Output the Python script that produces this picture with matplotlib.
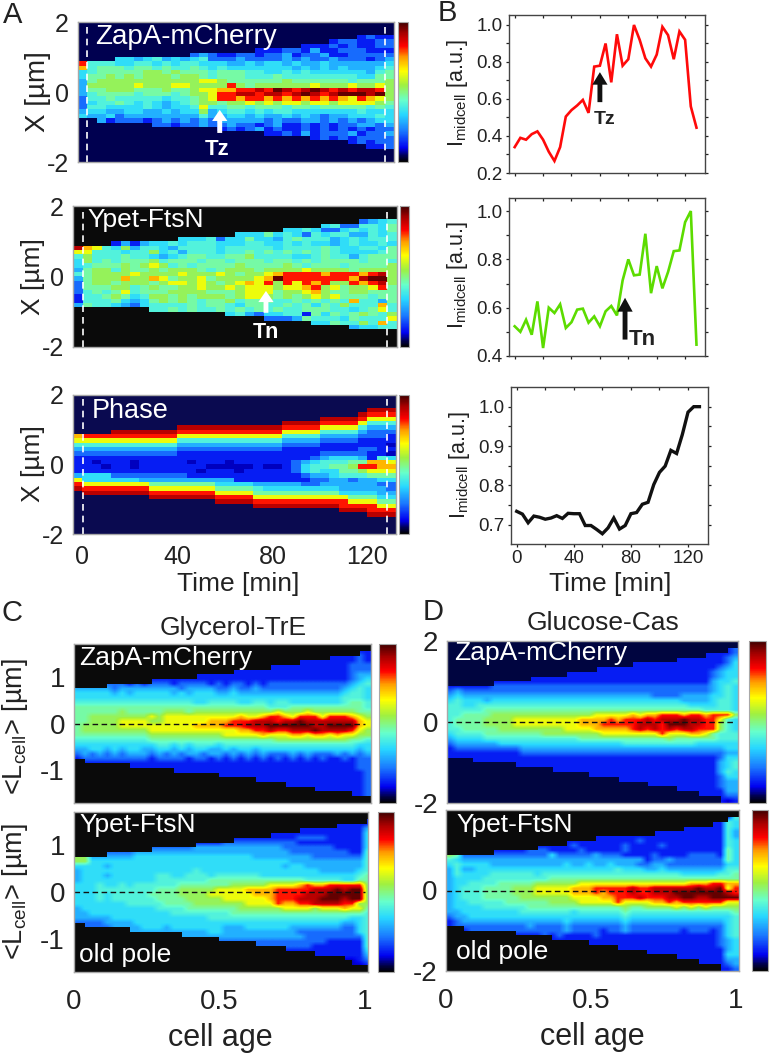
import matplotlib
matplotlib.use("Agg")
import matplotlib.pyplot as plt
import numpy as np
from matplotlib.colors import LinearSegmentedColormap
from matplotlib.cm import ScalarMappable

W, H = 780, 1056
plt.rcParams['font.family'] = ['Liberation Sans', 'DejaVu Sans']
plt.rcParams['mathtext.fontset'] = 'custom'
plt.rcParams['mathtext.rm'] = 'Liberation Sans'
plt.rcParams['text.color'] = '#222222'
plt.rcParams['xtick.color'] = '#222222'
plt.rcParams['ytick.color'] = '#222222'

# line traces, one point every 4 min
time_min = [0, 4, 8, 12, 16, 20, 24, 28, 32, 36, 40, 44, 48, 52, 56, 60, 64,
            68, 72, 76, 80, 84, 88, 92, 96, 100, 104, 108, 112, 116, 120, 124, 128]
zapa_mid = [.34, .39, .38, .41, .425, .38, .315, .265, .34, .505, .54, .565, .595, .525, .775, .78, .90,
            .69, .95, .78, .815, 1.0, .92, .82, .775, .84, .99, .945, .815, .965, .92, .56, .445]
ftsn_mid = [.523, .50, .55, .488, .626, .433, .60, .578, .614, .516, .54, .592, .596, .538, .564, .523, .585,
            .607, .568, .713, .80, .734, .737, .906, .66, .772, .68, .748, .834, .837, .954, 1.0, .447]
phase_mid = [.734, .727, .705, .722, .719, .714, .717, .723, .716, .729, .728, .728, .698, .698, .688, .677, .692,
             .717, .689, .698, .728, .731, .752, .757, .802, .833, .849, .889, .881, .929, .986, 1.0, 1.0]

# heat maps: one character per cell, top row first, '.' is outside the cell
# 0..9 a b c run from dark blue through cyan, green, yellow to dark red
level_values = {'0': .085, '1': .13, '2': .21, '3': .29, '4': .355, '5': .41, '6': .47, '7': .53,
                '8': .63, '9': .72, 'a': .82, 'b': .90, 'c': .97, '.': np.nan}

kymo_zapa = ['', '', '',
    '..............................1211',
    '...........................1221122',
    '........................1112121122',
    '...................111221311222111',
    '............2321122122312231122222',
    '....443453434522232222323223222123',
    'a555445545455444334344343343333334',
    '9566656656556545444444434343433345',
    '4566666776766656665544545444444356',
    '4667676777677656665556555555554466',
    '3677777777777887666666766666656667',
    '3777778777887777a76777777877787787',
    '36677766676678899aabacbabcbababba7',
    '356666566656778aabbabbabcbabcccbc7',
    '255655555455678aa9aa9a9a9a9a98a987',
    '2455654543456776778787887887888876',
    '2554444543445855665666566566666565',
    '3443344334344734554545544444445444',
    '4334233333333533443433434323344454',
    '..31222123232323333323223323232344',
    '........22122322322123112121223323',
    '...............1212312112121212122',
    '....................11213122231223',
    '.........................121212222',
    '.............................12122',
    '...............................112', '', '', '']

kymo_ftsn = ['', '', '',
    '..............................2345',
    '..........................45225546',
    '......................445422454546',
    '.................44464542545533545',
    '...........44452446443565553454555',
    '....131344545554445544545443454454',
    'b985473554355554555554555565445546',
    '8855545574535554556565656565444456',
    '5755565543456655667555544565535666',
    '4756566675666566566656656566665665',
    '4566676787565666676666765666566667',
    '3677576676777656777677778777767777',
    '5677778777787778767789aaaa9aaa9ab7',
    '3677797798677867777 89caaaaaaa9bcc7'.replace(' ', ''),
    '26776777678878767898a7a8a9a77a9ab7',
    '2666775676677877878887889a786778a6',
    '2565685666777766678886778976677666',
    '1556764577676777678876767878666566',
    '1555643467676566756665565656595536',
    '3655432455556566546655656465755595',
    '........55656556565656556665545685',
    '................453244551646567657',
    '....................22236555465558',
    '.........................446557595',
    '.............................34455', '', '', '', '']

kymo_phase = ['', '', '',
    '...............................bbb',
    '..............................baaa',
    '..........................bbbba888',
    '......................bbbbaaaa8555',
    '...........bbbbbbbbbbbaaaa88885333',
    '....bbbbbbbaaaaaaaaaaa888855553222',
    '9aaaaaaaaaa88888888888555533332221',
    '8888888888855555555555333322221111',
    '5555555555533333333333222211111110',
    '3333333333322222222222111111112211',
    '2222222222211111111111111122222110',
    '1111111111111111111111111234443154',
    '1101110111110111011111123455566998',
    '1110110111111100000100124556 67aa9'.replace(' ', ''),
    '1111111111111011101111124544667888',
    '3444222222221111111111112334555666',
    '8444444333333333311111111223323344',
    'a888888866666664444333332233333322',
    'baaaaaaa88888886666544444444333332',
    '.bbbbbbbaaaaaaa8888666666666444433',
    '........bbbbbbbaaaa888888888866644',
    '...............bbbbaaaaaaaaaa88866',
    '...................bbbbbbbbbaaaa88',
    '............................bbbaaa',
    '...............................bbb', '', '', '', '']

glycerol_zapa = ['',
    '......................................11',
    '..................................111121',
    '..............................1111111121',
    '..........................11111111111222',
    '.....................1111111111111111222',
    '................111111111111111111111233',
    '..........111111111111111111111111111234',
    '....222121222122221212212122222222222345',
    '3333323333333323333223223222222222223454',
    '4444434344444343444334333333333333334554',
    '4444444444444444444444444444444444445554',
    '5555555555555555445555445545544444445665',
    '6666666666666666666666666655566666666665',
    '6666667666667776777777777778777877777766',
    '6677777777878888888888988 9aa98aaa8aaa987'.replace(' ', ''),
    '667777888877888888999aaabbbabbcbbbbbbb98',
    '6777778888888888999 9aaabbbccccccbbcccc98'.replace(' ', ''),
    '677777777788888888888899aabaabbbcbbbba87',
    '6666666666777777777788888988899899898877',
    '5555555555666666666666666667777777777665',
    '4444444444455454555455555555555555555544',
    '3344343443344343443343443444444444444434',
    '2323232333232323323323232322232322232323',
    '1222222222122221221212121212121212112122',
    '.111111111111111111111111111111111111122',
    '.......111111111111111111111111111111122',
    '.............111111111111111111111111112',
    '...................111111111111111111112',
    '........................1111111111111112',
    '............................111111111112',
    '................................11111112',
    '.....................................112',
    '']

glycerol_ftsn = ['',
    '.......................................1',
    '...................................11111',
    '..............................1111111113',
    '..........................11111111111114',
    '.....................1111111112222111114',
    '................111122222222221111111114',
    '..........222222333333333333222222211114',
    '....222233333333333333333333322222222115',
    '7733333344444444444444443333333322222225',
    '7744444444444444444444444444433333333335',
    '4444344444444444444444444444344333333335',
    '3444444444444444544444444444444443333345',
    '3444344444455445554555555444444444444456',
    '3444444444455555556666666666666555554466',
    '4445445455555566666667777788889a99aaaaa7',
    '44455555555666777778888999 9aaaaabbbcbcc7'.replace(' ', ''),
    '444545555566667777888888999aaaabbbccccc7',
    '44454555555666677777888888 9aaabbbcccbcc7'.replace(' ', ''),
    '44444445555566667777777888 8a99aabbbbaa77'.replace(' ', ''),
    '3444444444455556666666777777888878889886',
    '3344444444444555555556666666666666666665',
    '3333344444444444445555555555555555555445',
    '2222333344444444444444444444444444443345',
    '.222233334443444444433344444433333332245',
    '.......333333333334433333333332222222245',
    '..............33333333333333333222222225',
    '...................222222222222222111115',
    '........................2222222211111115',
    '............................111111111114',
    '................................11111113',
    '....................................0012',
    '.....................................001',
    '']

glucose_zapa = ['',
    '......................................12',
    '...................................11112',
    '...............................111111123',
    '.........................111111111111124',
    '....................11111111111111111234',
    '................111111111111111111112344',
    '...........11111111111111111111111112344',
    '......1111111111111111111111111111113445',
    '1111112222222222222222222222222222223454',
    '2322222222222222222222222222222222223454',
    '3433333333333333333333333333222233334454',
    '4544434444444444444444444444444433334554',
    '5544555555555555555555555555555554444554',
    '5555566666666666666666666666666666655554',
    '5566667777777777777788888989 9aaa9aa9aaa75'.replace(' ', ''),
    '56666777788888888899 99a9aaababbbcbbaa854'.replace(' ', ''),
    '566667777888888888999aaaaabbbacccbbaa754',
    '55666667777777778888 99999ababababbaaa754'.replace(' ', ''),
    '4555566666666777777778888888 8a88899865'.replace(' ', ''),
    '3444455555555555556666666666667666666555',
    '2333333444444444444444445555555555444444',
    '1222222222333333333333333333333333333344',
    '1111111111222222222222222222222222222233',
    '1111111111111111111111111111111111111244',
    '...1111111111111111111111111111111111345',
    '.........1111111111111111111111111111345',
    '..............11111111111111111111111354',
    '...................111111111111111111244',
    '.......................11111111111111233',
    '...........................1111111111233',
    '...............................111111133',
    '..................................111122',
    '.....................................101']

glucose_ftsn = ['',
    '......................................15',
    '....................................1154',
    '................................11111154',
    '............................111111111153',
    '....................11111111111111111153',
    '................111111111121111111111154',
    '............1111121111112111121111111154',
    '......1111122211112111112111111111111164',
    '7622222222222242222232221111211112222164',
    '5433333333333333333333333331223222222264',
    '4544443333333333433433433322332222222244',
    '3533444444444444444444454443343333333355',
    '3544445555554555555555555555555544444556',
    '3444455555555566666666666666666666666666',
    '3445555666667777778888888888888 8899 9aa9'.replace(' ', ''),
    '34555666677788888999aaaaabaabbbbbbcbbc8a',
    '34555666677788888999a9aaabaabbbcccccccba',
    '3455566666777777788 8899aaabaaabbccbbccc'.replace(' ', ''),
    '344555556666667777888 88a888899a9aaaaaa8'.replace(' ', ''),
    '3444455555566666666666667667777878787777',
    '3344444444555555545555556555555555555556',
    '2334444444444444444444445444444444444445',
    '1233333333333333433333334333333333333345',
    '1222222222232222322222223222222222222245',
    '..12222222222222322221223222222212221245',
    '.........1111212111121111111111111111245',
    '..............11111111111111111111111234',
    '...................111111111111111111234',
    '.......................11111111111111134',
    '...........................1111111111144',
    '...............................111111133',
    '..................................111123',
    '.....................................112']

cell_labels_a = ['ZapA-mCherry', 'Ypet-FtsN', 'Phase']
cmap_stops = [(0, '#000000'), (.04, '#00004a'), (.10, '#0000f0'), (.22, '#1a78ff'), (.34, '#28d8ff'),
              (.44, '#66ffcc'), (.55, '#a0f040'), (.65, '#ffff00'), (.75, '#ff9a00'), (.83, '#ff0000'),
              (.92, '#a80000'), (1, '#400000')]
kymo_cmap = LinearSegmentedColormap.from_list('kymo', cmap_stops)

fig = plt.figure(figsize=(W / 100, H / 100), dpi=100)


def ax_px(x0, y0, x1, y1):
    return fig.add_axes([x0 / W, 1 - y1 / H, (x1 - x0) / W, (y1 - y0) / H])


def fig_text(x, y, s, **kw):
    fig.text(x / W, 1 - y / H, s, ha='center', va='center', **kw)


def to_grid(rows, ncol):
    grid = []
    for row in rows:
        # a row typed a bit short repeats its last cell
        row = row[:ncol].ljust(ncol, row[-1] if row else '.')
        grid.append([level_values[c] for c in row])
    return np.array(grid)


def heat_panel(box, cbox, rows, ncol, bg, extent, xlim, ylim, yticks, fs, interp='nearest'):
    ax = ax_px(*box)
    ax.set_facecolor(bg)
    ax.imshow(to_grid(rows, ncol), extent=extent, aspect='auto', cmap=kymo_cmap,
              vmin=0, vmax=1, interpolation=interp)
    ax.set_xlim(*xlim)
    ax.set_ylim(*ylim)
    ax.set_yticks(yticks)
    ax.set_yticklabels([str(t) for t in yticks])
    ax.set_xticks([])
    ax.tick_params(length=0, labelsize=fs, pad=6.5)
    for s in ax.spines.values():
        s.set_color('#a8a8a8')
        s.set_linewidth(1)
    cax = ax_px(*cbox)
    cb = fig.colorbar(ScalarMappable(cmap=kymo_cmap), cax=cax)
    cb.set_ticks([])
    cb.outline.set_edgecolor('#a8a8a8')
    return ax


def line_panel(box, values, color, ylim, major, minor, lw, xlabels=False):
    ax = ax_px(*box)
    ax.plot(time_min, values, color=color, lw=lw, solid_joinstyle='miter')
    ax.set_xlim(-4, 134)
    ax.set_ylim(*ylim)
    ax.set_xticks([0, 40, 80, 120])
    ax.set_xticks([20, 60, 100], minor=True)
    ax.set_yticks(major)
    ax.set_yticks(minor, minor=True)
    ax.set_yticklabels(['%.1f' % v for v in major])
    if not xlabels:
        ax.set_xticklabels([])
    ax.tick_params(which='both', direction='out', length=2.5, width=.9, labelsize=13.5, pad=2)
    ax.tick_params(right=True, which='both')
    top = ax.secondary_xaxis('top')
    top.set_xticks([0, 20, 40, 60, 80, 100, 120])
    top.tick_params(direction='in', length=2.5, width=.9, labeltop=False)
    top.spines['top'].set_visible(False)
    for s in ax.spines.values():
        s.set_color('#444444')
        s.set_linewidth(1)
    return ax


def arrow(ax, x, y_tip, y_tail, color, width, head, headlen):
    ax.annotate('', xy=(x, y_tip), xytext=(x, y_tail),
                arrowprops=dict(facecolor=color, edgecolor='none', width=width, headwidth=head,
                                headlength=headlen, shrink=0))


kymo_ext = (-4, 132, -2, 2)
a1 = heat_panel((78, 22, 394, 162), (398, 22, 408, 162), kymo_zapa, 34, '#000050',
                kymo_ext, (-4, 132), (-2, 2), [2, 0, -2], 18)
a2 = heat_panel((73, 206, 397, 347), (400, 206, 409, 347), kymo_ftsn, 34, '#0a0a0a',
                kymo_ext, (-4, 132), (-2, 2), [2, 0, -2], 18)
a3 = heat_panel((73, 395, 396, 534), (399, 395, 409, 534), kymo_phase, 34, '#0a0a50',
                kymo_ext, (-4, 132), (-2, 2), [2, 0, -2], 18)
a3.set_xticks([0, 40, 80, 120])
a3.tick_params(axis='x', pad=8)
for ax, name, fs, tx, ty in zip([a1, a2, a3], cell_labels_a, [20, 19, 19.5], [95, 87, 92], [37, 220, 411]):
    ax.axvline(0, color='white', lw=1.2, ls=(0, (4, 3)))
    ax.axvline(128, color='white', lw=1.2, ls=(0, (4, 3)))
    fig.text(tx / W, 1 - ty / H, name, color='white', fontsize=fs, ha='left', va='center')

arrow(a1, 57, -0.51, -1.17, 'white', 3.5, 11, 8)
a1.text(56, -1.63, 'Tz', color='white', fontsize=16, fontweight='bold', ha='center', va='center')
arrow(a2, 77, -0.41, -1.03, 'white', 3.5, 11, 8)
a2.text(77, -1.6, 'Tn', color='white', fontsize=15.5, fontweight='bold', ha='center', va='center')

fig_text(38, 92, 'X [µm]', fontsize=20, rotation=90)
fig_text(33, 277, 'X [µm]', fontsize=19, rotation=90)
fig_text(33, 464, 'X [µm]', fontsize=19, rotation=90)
fig_text(238, 584, 'Time [min]', fontsize=19)

b1 = line_panel((509, 15, 705, 173), zapa_mid, '#ff0a0a', (.2, 1.054), [.2, .4, .6, .8, 1.0],
                [.3, .5, .7, .9], 1.9)
b2 = line_panel((509, 198, 705, 356), ftsn_mid, '#5cdc00', (.4, 1.054), [.4, .6, .8, 1.0],
                [.5, .7, .9], 1.9)
b3 = line_panel((511, 387, 708, 544), phase_mid, '#111111', (.651, 1.05), [.7, .8, .9, 1.0],
                [.75, .85, .95], 2.4, xlabels=True)
arrow(b1, 60, .745, .583, '#111111', 3.5, 11, 9)
b1.text(63.6, .49, 'Tz', color='#222222', fontsize=14, fontweight='bold', ha='center', va='center')
arrow(b2, 77.7, .641, .468, '#111111', 3.5, 11, 10)
b2.text(89.6, .468, 'Tn', color='#222222', fontsize=16, fontweight='bold', ha='center', va='center')

i_label = r'$\mathrm{I_{midcell}}$ [a.u.]'
fig_text(457, 93, i_label, fontsize=15.5, rotation=90)
fig_text(457, 275, i_label, fontsize=15.5, rotation=90)
fig_text(459, 465, i_label, fontsize=15.5, rotation=90)
fig_text(610, 584, 'Time [min]', fontsize=19)

age_ext_c = (0, 1.02, -1.7, 1.7)
age_ext_d = (0, 1.01, -2, 2)
c1 = heat_panel((74, 644, 371, 803), (379, 644, 396, 803), glycerol_zapa, 40, '#0a0a0a',
                age_ext_c, (0, 1.02), (-1.7, 1.7), [1, 0, -1], 20, 'bilinear')
c2 = heat_panel((74, 812, 368, 972), (378, 812, 394, 972), glycerol_ftsn, 40, '#0a0a0a',
                age_ext_c, (0, 1.01), (-1.7, 1.7), [1, 0, -1], 20, 'bilinear')
d1 = heat_panel((447, 641, 738, 803), (749, 641, 766, 803), glucose_zapa, 40, '#000540',
                age_ext_d, (0, 1.01), (-2, 2), [2, 0, -2], 20, 'bilinear')
d2 = heat_panel((446, 810, 739, 971), (752, 810, 768, 971), glucose_ftsn, 40, '#0a0a0a',
                age_ext_d, (0, 1.01), (-2, 2), [0, -2], 20, 'bilinear')
for ax in [c1, c2, d1, d2]:
    ax.plot([0, 1.0], [0, 0], color='#111111', lw=1, ls=(0, (4, 2.5)))
for ax in [c2, d2]:
    ax.set_xticks([0, .5, 1])
    ax.set_xticklabels(['0', '0.5', '1'])
    ax.tick_params(axis='x', pad=12)

for x, y, s in [(79, 658, 'ZapA-mCherry'), (79, 825, 'Ypet-FtsN'), (79, 955, 'old pole'),
                (454, 653, 'ZapA-mCherry'), (456, 825, 'Ypet-FtsN'), (456, 952, 'old pole')]:
    fig.text(x / W, 1 - y / H, s, color='white', fontsize=19, ha='left', va='center')

fig_text(233, 628, 'Glycerol-TrE', fontsize=19)
fig_text(603, 623, 'Glucose-Cas', fontsize=19)
l_label = r'<$\mathrm{L_{cell}}$> [µm]'
fig_text(15, 726, l_label, fontsize=19.5, rotation=90)
fig_text(15, 891, l_label, fontsize=19.5, rotation=90)
fig_text(220, 1038, 'cell age', fontsize=22)
fig_text(592, 1037, 'cell age', fontsize=22)

for x, y, s in [(13, 15, 'A'), (447, 13, 'B'), (12, 613, 'C'), (433, 612, 'D')]:
    fig_text(x, y, s, fontsize=21)

fig.savefig('out.png', dpi=100)
